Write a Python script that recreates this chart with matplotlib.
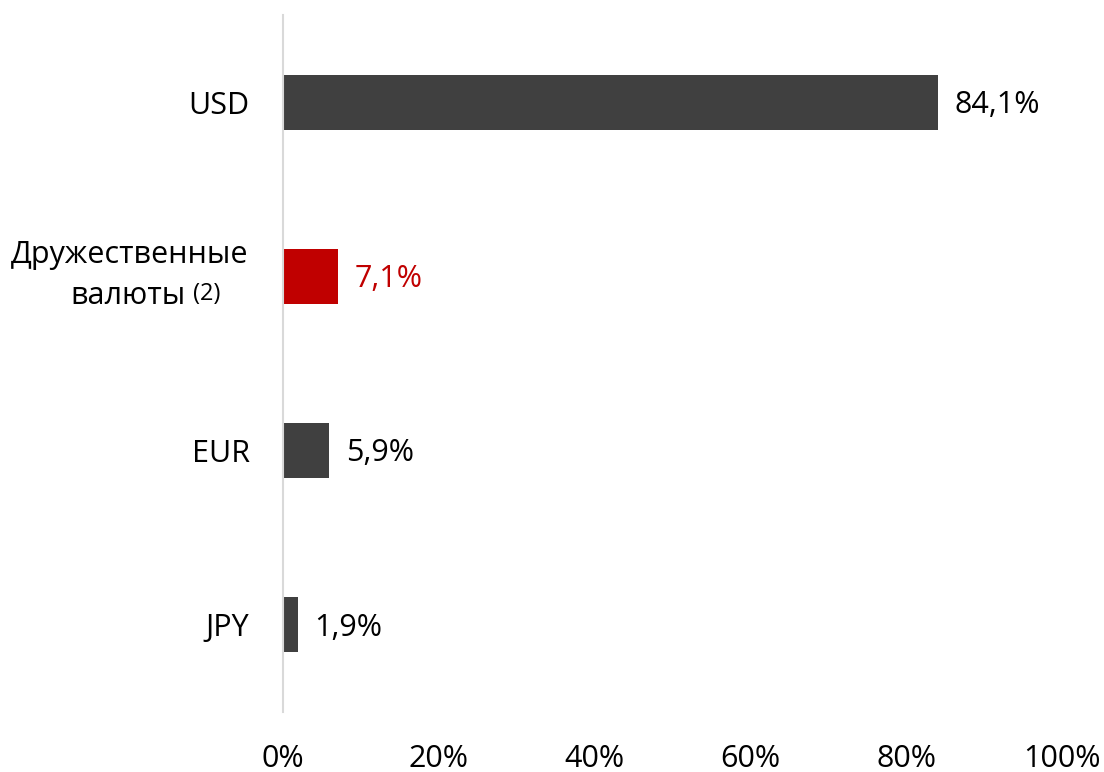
import matplotlib
matplotlib.use("Agg")
import matplotlib.pyplot as plt

categories = ["USD", "Дружественные\nвалюты", "EUR", "JPY"]
values = [84.1, 7.1, 5.9, 1.9]
value_labels = ["84,1%", "7,1%", "5,9%", "1,9%"]
colors = ["#404040", "#C00000", "#404040", "#404040"]
label_colors = ["#000000", "#C00000", "#000000", "#000000"]
xticks = [0, 20, 40, 60, 80, 100]
xtick_labels = ["0%", "20%", "40%", "60%", "80%", "100%"]

plt.rcParams['font.family'] = ['Open Sans', 'DejaVu Sans']
FS = 22

fig = plt.figure(figsize=(11.04, 7.72), dpi=100)
ax = fig.add_axes([283/1104, 1-712/772, (1062-283)/1104, 697/772])

ypos = list(range(len(values)))
ax.barh(ypos, values, height=0.316, color=colors)
ax.set_ylim(3.5, -0.5)
ax.set_xlim(0, 100)

for y, v, lab, c in zip(ypos, values, value_labels, label_colors):
    ax.annotate(lab, (v, y), xytext=(12, -2), textcoords="offset points",
                ha="left", va="center", fontsize=FS, color=c)

ax.set_xticks(xticks)
ax.set_xticklabels(xtick_labels, fontsize=FS)
ax.tick_params(axis="x", length=0, pad=23)
ax.set_yticks(ypos)
ax.set_yticklabels(["USD", "", "EUR", "JPY"], fontsize=FS)
ax.tick_params(axis="y", length=0, pad=24)

# Multi-line label with smaller footnote marker
first, second = categories[1].split("\n")
ax.text(-4.5, 1 - 0.12, first, ha="right", va="center", fontsize=FS, clip_on=False)
ax.text(-12.45, 1 + 0.11, second, ha="right", va="center", fontsize=FS, clip_on=False)
ax.text(-11.6, 1 + 0.10, "(2)", ha="left", va="center", fontsize=17, clip_on=False)

for s in ["top", "right", "bottom"]:
    ax.spines[s].set_visible(False)
ax.spines["left"].set_color("#d9d9d9")
ax.spines["left"].set_linewidth(1.5)

fig.savefig("out.png", dpi=100)
